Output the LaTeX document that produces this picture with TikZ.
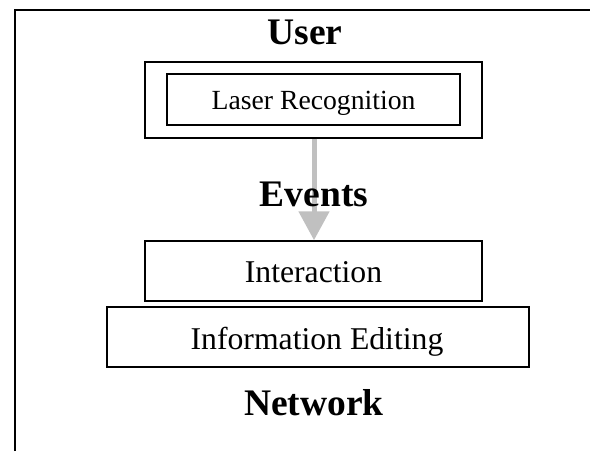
\documentclass[tikz,border=0pt]{standalone}
\usepackage{fontspec}
\setmainfont{Liberation Serif}
\usetikzlibrary{arrows.meta}
\tikzset{
 boxnode/.style={draw=black,line width=1.5pt,fill=white,rectangle,inner sep=0pt,anchor=center},
 plain/.style={font=\fontsize{31.7}{36}\selectfont,anchor=base},
 heading/.style={font=\bfseries\fontsize{37.5}{42}\selectfont,anchor=base},
 flow/.style={draw={rgb,255:red,192;green,192;blue,192},line width=5pt,-{Triangle[length=29pt,width=30pt]}}
}
\begin{document}
\begin{tikzpicture}[x=1pt,y=-1pt]
\useasboundingbox (0,0) rectangle (590,451);
\coordinate (fbl) at (15,451);
\coordinate (ftl) at (15,10);
\coordinate (ftr) at (590,10);
\draw[line width=2.8pt] (fbl) -- (ftl) -- (ftr);
\node[boxnode,minimum width=337pt,minimum height=76pt] (outer) at (313.5,100) {};
\node[boxnode,minimum width=293pt,minimum height=51pt] (inner) at (313.5,99.5) {};
\node[plain,font=\fontsize{27.7}{32}\selectfont] (lasertext) at (313.5,109) {Laser Recognition};
\node[boxnode,minimum width=337pt,minimum height=60pt] (inter) at (313.5,271) {};
\node[plain] (intertext) at (313.5,282) {Interaction};
\node[boxnode,minimum width=422pt,minimum height=60pt] (info) at (318,337) {};
\node[plain] (infotext) at (317,349) {Information Editing};
\draw[flow] (outer.south -| 314,0) -- (inter.north -| 314,0);
\node[heading] (user) at (305,44) {User};
\node[heading] (events) at (314,206) {Events};
\node[heading] (network) at (314,415) {Network};
\end{tikzpicture}
\end{document}
